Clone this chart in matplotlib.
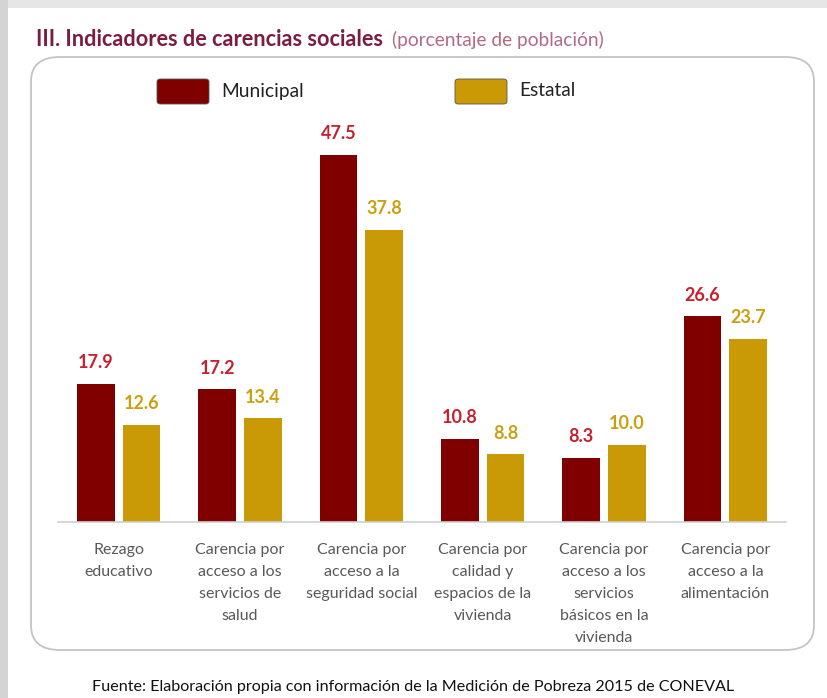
import matplotlib.pyplot as plt
from matplotlib.patches import FancyBboxPatch, Rectangle
import numpy as np

plt.rcParams['font.family'] = ['Lato', 'DejaVu Sans']

categorias = ['Rezago\neducativo',
              'Carencia por\nacceso a los\nservicios de\nsalud',
              'Carencia por\nacceso a la\nseguridad social',
              'Carencia por\ncalidad y\nespacios de la\nvivienda',
              'Carencia por\nacceso a los\nservicios\nbásicos en la\nvivienda',
              'Carencia por\nacceso a la\nalimentación']
municipal = [17.9, 17.2, 47.5, 10.8, 8.3, 26.6]
estatal = [12.6, 13.4, 37.8, 8.8, 10.0, 23.7]

col_mun = '#800000'
col_est = '#c99a06'
lab_mun = '#c8202c'
lab_est = '#c9a010'

W, H = 827, 698
fig = plt.figure(figsize=(W / 100, H / 100), dpi=100)
fig.patch.set_facecolor('white')

# gray page margins (screenshot)
fig.patches.append(Rectangle((0, 1 - 8 / H), 1, 8 / H, transform=fig.transFigure,
                             facecolor='#e6e6e6', edgecolor='none', zorder=0))
fig.patches.append(Rectangle((0, 0), 8 / W, 1, transform=fig.transFigure,
                             facecolor='#d4d4d4', edgecolor='none', zorder=0))

# rounded frame
x0, y0, x1, y1 = 31, 57, 814, 650
fig.patches.append(FancyBboxPatch((x0 / W, 1 - y1 / H), (x1 - x0) / W, (y1 - y0) / H,
                                  boxstyle='round,pad=0,rounding_size=0.035',
                                  transform=fig.transFigure, facecolor='white',
                                  edgecolor='#c4c4c4', linewidth=1.3, zorder=1))

# title
fig.text(36 / W, 1 - 39 / H, 'III. Indicadores de carencias sociales', fontsize=15.6,
         fontweight='bold', color='#7b1d3c', va='center', ha='left')
fig.text(392 / W, 1 - 40 / H, '(porcentaje de población)', fontsize=13.8,
         color='#b46a80', va='center', ha='left')

ax_left, ax_right = 58, 786
base, top_px = 522, 522 - 50 * 7.73
ax = fig.add_axes([ax_left / W, 1 - base / H, (ax_right - ax_left) / W, (base - top_px) / H])
ax.set_zorder(2)
ax.patch.set_alpha(0)

x = np.arange(len(categorias))
bw = 0.31
off = 0.188
ax.bar(x - off, municipal, bw, color=col_mun, label='Municipal')
ax.bar(x + off, estatal, bw, color=col_est, label='Estatal')

for i in range(len(categorias)):
    ax.text(x[i] - off, municipal[i] + 1.6, f'{municipal[i]:.1f}', ha='center', va='bottom',
            fontsize=13, fontweight='bold', color=lab_mun)
    ax.text(x[i] + off, estatal[i] + 1.6, f'{estatal[i]:.1f}', ha='center', va='bottom',
            fontsize=13, fontweight='bold', color=lab_est)

ax.set_xlim(-0.5, len(categorias) - 0.5)
ax.set_ylim(0, 50)
ax.set_yticks([])
ax.set_xticks(x)
ax.set_xticklabels(categorias, fontsize=11.5, color='#595959', linespacing=1.72)
ax.tick_params(axis='x', length=0, pad=15)
for s in ['top', 'right', 'left']:
    ax.spines[s].set_visible(False)
ax.spines['bottom'].set_color('#d0d0d0')
ax.spines['bottom'].set_linewidth(1.2)

# legend
for px, name, c in [(157, 'Municipal', col_mun), (455, 'Estatal', col_est)]:
    fig.patches.append(FancyBboxPatch((px / W, 1 - 104 / H), 52 / W, 25 / H,
                                      boxstyle='round,pad=0,rounding_size=0.004',
                                      transform=fig.transFigure, facecolor=c,
                                      edgecolor='#555555', linewidth=0.6, zorder=3))
    fig.text((px + 64) / W, 1 - 91 / H, name, fontsize=13.8, color='#222222',
             va='center', ha='left')

fig.text(413 / W, 1 - 687 / H,
         'Fuente: Elaboración propia con información de la Medición de Pobreza 2015 de CONEVAL',
         fontsize=11.6, color='#111111', ha='center', va='center')

fig.savefig('out.png', dpi=100)
